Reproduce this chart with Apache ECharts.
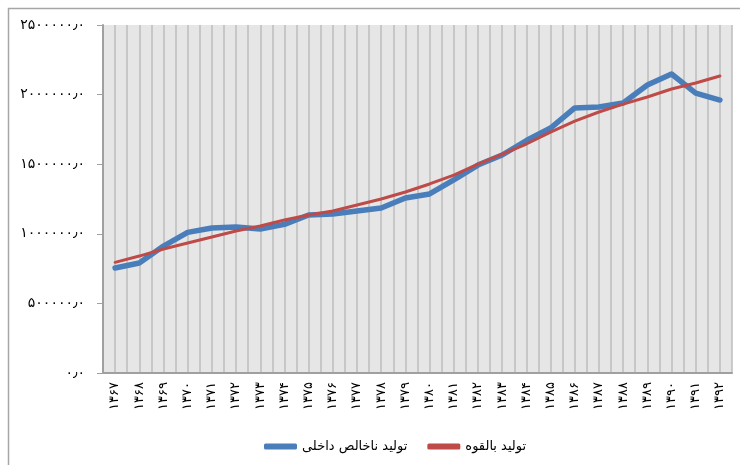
<!DOCTYPE html>
<html>
<head>
<meta charset="utf-8">
<script src="https://cdn.jsdelivr.net/npm/echarts@6/dist/echarts.min.js"></script>
<style>
  html, body { margin: 0; padding: 0; background: #fff; }
  #chart { width: 740px; height: 465px; }
</style>
</head>
<body>
<div id="chart"></div>
<script>
// سال‌ها
var years = [1367, 1368, 1369, 1370, 1371, 1372, 1373, 1374, 1375, 1376, 1377, 1378, 1379,
             1380, 1381, 1382, 1383, 1384, 1385, 1386, 1387, 1388, 1389, 1390, 1391, 1392];
// تولید ناخالص داخلی
var gdp = [754000, 790000, 912000, 1010000, 1042000, 1049000, 1034000, 1068000, 1135000, 1142000, 1164000, 1185000, 1257000,
           1286000, 1387000, 1494000, 1566000, 1670000, 1760000, 1904000, 1911000, 1940000, 2069000, 2148000, 2011000, 1961000];
// تولید بالقوه
var potential = [795000, 840000, 891000, 934000, 977000, 1020000, 1056000, 1099000, 1135000, 1164000, 1207000, 1250000, 1300000,
                 1358000, 1422000, 1501000, 1573000, 1645000, 1731000, 1810000, 1875000, 1932000, 1983000, 2040000, 2083000, 2134000];
var yTicks = { min: 0, max: 2500000, step: 500000 };

var faDigits = ['۰','۱','۲','۳','۴','۵','۶','۷','۸','۹'];
function toFa(s){
    return String(s).replace(/[0-9]/g, function(d){ return faDigits[+d]; });
}

// خطوط شبکه عمودی (هر نیم دسته)
var halfCats = [];
for (var i = 0; i < years.length * 2; i++) halfCats.push('');

var chart = echarts.init(document.getElementById('chart'));
var option = {
    animation: false,
    textStyle: { fontFamily: 'DejaVu Sans' },
    graphic: [{
        type: 'rect',
        shape: { x: 8.5, y: 8.5, width: 800, height: 500 },
        style: { fill: 'none', stroke: '#a6a6a6', lineWidth: 1.5 },
        silent: true
    }],
    grid: {
        left: 103, right: 8, top: 25, bottom: 92,
        show: true, backgroundColor: '#e6e6e6', borderWidth: 0
    },
    legend: {
        left: 259, top: 435,
        itemWidth: 33, itemHeight: 6, itemGap: 20,
        icon: 'roundRect',
        textStyle: { fontSize: 13, color: '#000', fontFamily: 'DejaVu Sans' },
        data: ['تولید ناخالص داخلی', 'تولید بالقوه']
    },
    xAxis: [{
        type: 'category',
        data: years,
        boundaryGap: true,
        axisLine: { lineStyle: { color: '#a0a0a0', width: 2 } },
        axisTick: { show: false },
        splitLine: { show: false },
        axisLabel: {
            rotate: 90, margin: 9, interval: 0,
            fontSize: 13, color: '#000',
            formatter: function(v){ return toFa(v); }
        }
    }, {
        type: 'category',
        data: halfCats,
        boundaryGap: true,
        position: 'bottom',
        axisLine: { show: false },
        axisTick: { show: false },
        axisLabel: { show: false },
        splitLine: { show: true, lineStyle: { color: '#bdbdbd', width: 1.5 } }
    }],
    yAxis: {
        type: 'value',
        min: yTicks.min, max: yTicks.max, interval: yTicks.step,
        axisLine: { show: true, lineStyle: { color: '#a0a0a0', width: 2 } },
        axisTick: { show: true, length: 6, lineStyle: { color: '#a0a0a0' } },
        splitLine: { show: false },
        axisLabel: {
            margin: 18, fontSize: 14, color: '#000',
            formatter: function(v){ return toFa(v) + '٫' + '۰'; }
        }
    },
    series: [{
        name: 'تولید ناخالص داخلی',
        type: 'line',
        xAxisIndex: 0,
        data: gdp,
        showSymbol: false,
        symbol: 'none',
        lineStyle: { color: '#4a7ebb', width: 5.5, cap: 'round', join: 'round' },
        itemStyle: { color: '#4a7ebb' }
    }, {
        name: 'تولید بالقوه',
        type: 'line',
        xAxisIndex: 0,
        data: potential,
        showSymbol: false,
        symbol: 'none',
        lineStyle: { color: '#be4b48', width: 3, cap: 'round', join: 'round' },
        itemStyle: { color: '#be4b48' }
    }]
};
chart.setOption(option);
</script>
</body>
</html>
